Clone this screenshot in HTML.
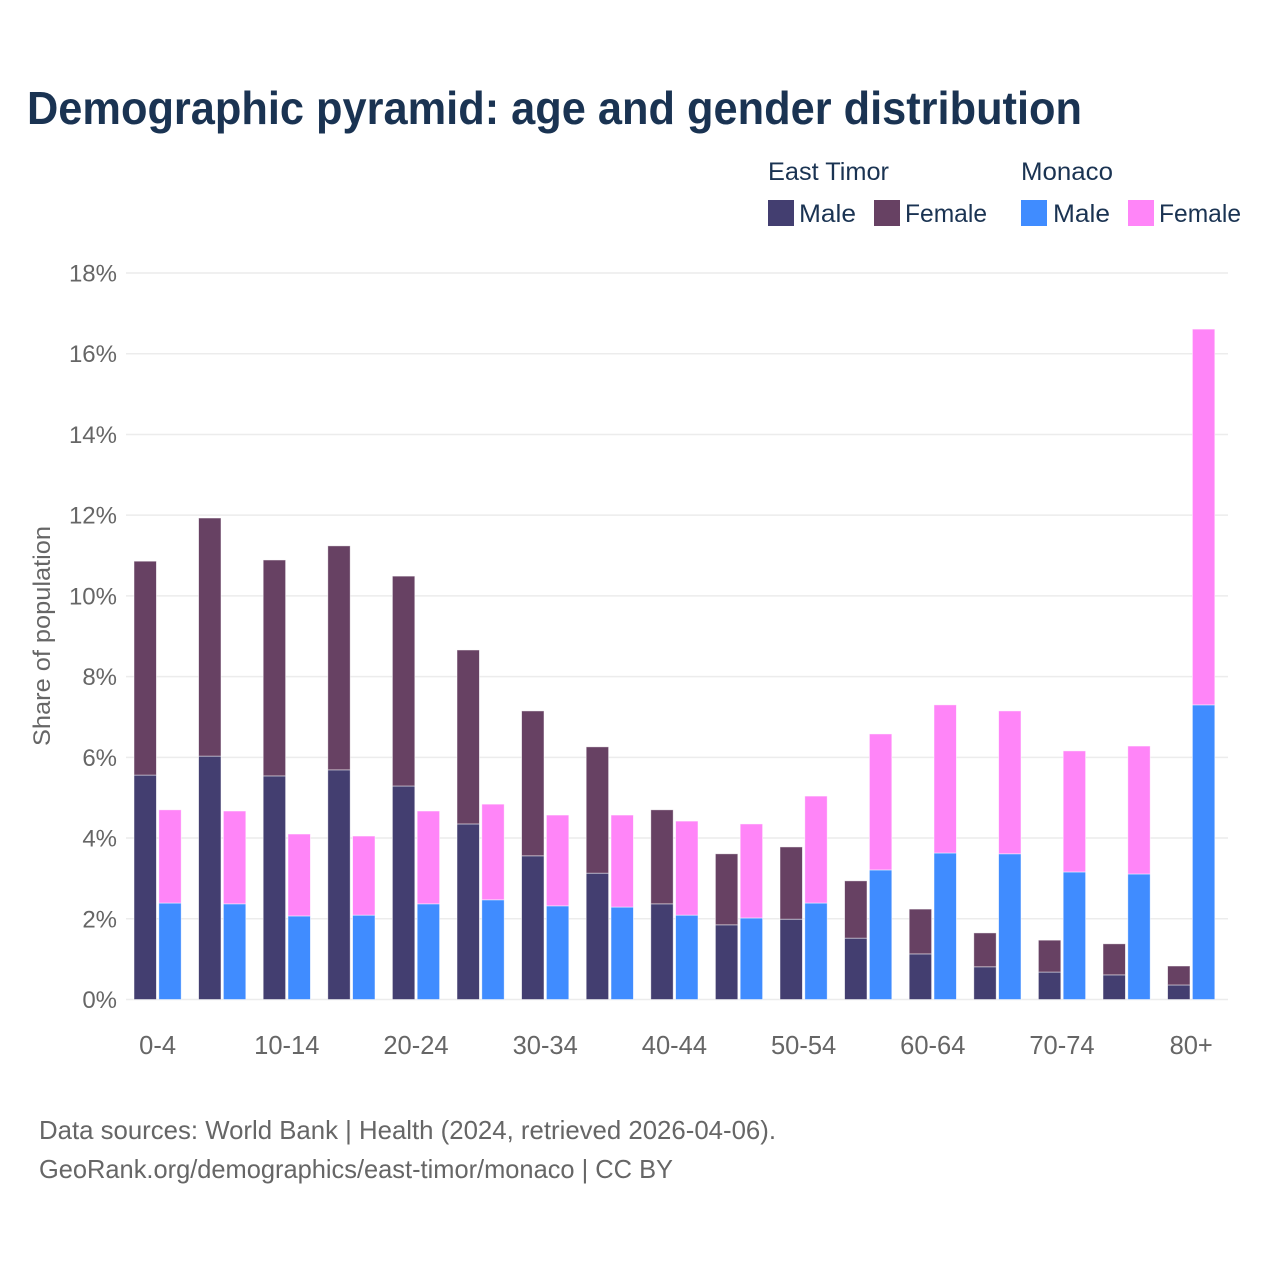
<!DOCTYPE html>
<html lang="en">
<head>
<meta charset="utf-8">
<title>Demographic pyramid</title>
<style>
html,body{margin:0;padding:0;background:#fff;width:1280px;height:1280px;overflow:hidden}
svg{display:block}
text{font-family:"Liberation Sans",sans-serif}
</style>
</head>
<body>
<svg id="chart" width="1280" height="1280" viewBox="0 0 1280 1280" xmlns="http://www.w3.org/2000/svg">
  <rect x="0" y="0" width="1280" height="1280" fill="#ffffff"/>
  <text x="27" y="124" font-size="46" font-weight="700" fill="#1a3352" textLength="1055" lengthAdjust="spacingAndGlyphs">Demographic pyramid: age and gender distribution</text>

  <g font-size="25" fill="#1a3352">
    <text x="768" y="180" textLength="121" lengthAdjust="spacingAndGlyphs">East Timor</text>
    <text x="1021" y="180" textLength="92" lengthAdjust="spacingAndGlyphs">Monaco</text>
    <rect x="768" y="200" width="26" height="26" fill="#433e70"/>
    <text x="799" y="222" textLength="57" lengthAdjust="spacingAndGlyphs">Male</text>
    <rect x="874" y="200" width="26" height="26" fill="#674163"/>
    <text x="905" y="222" textLength="82" lengthAdjust="spacingAndGlyphs">Female</text>
    <rect x="1021" y="200" width="26" height="26" fill="#408cff"/>
    <text x="1053" y="222" textLength="57" lengthAdjust="spacingAndGlyphs">Male</text>
    <rect x="1128" y="200" width="26" height="26" fill="#ff85f8"/>
    <text x="1159" y="222" textLength="82" lengthAdjust="spacingAndGlyphs">Female</text>
  </g>

  <g id="grid"></g>
  <g id="y-ticks"></g>
  <g id="bars"></g>
  <g id="x-ticks"></g>

  <text transform="translate(50,636) rotate(-90)" text-anchor="middle" font-size="24" fill="#666666" textLength="220" lengthAdjust="spacingAndGlyphs">Share of population</text>

  <text x="39" y="1139" font-size="26" fill="#666666" textLength="737" lengthAdjust="spacingAndGlyphs">Data sources: World Bank | Health (2024, retrieved 2026-04-06).</text>
  <text x="39" y="1178" font-size="26" fill="#666666" textLength="634" lengthAdjust="spacingAndGlyphs">GeoRank.org/demographics/east-timor/monaco | CC BY</text>
</svg>
<script>
const categories = ["0-4","5-9","10-14","15-19","20-24","25-29","30-34","35-39","40-44","45-49","50-54","55-59","60-64","65-69","70-74","75-79","80+"];
const xTickLabels = ["0-4","10-14","20-24","30-34","40-44","50-54","60-64","70-74","80+"];
const yTickValues = [0,2,4,6,8,10,12,14,16,18];
const eastTimorMale = [5.56,6.03,5.54,5.69,5.29,4.35,3.56,3.13,2.37,1.85,1.99,1.52,1.13,0.81,0.68,0.61,0.36];
const eastTimorFemale = [5.30,5.90,5.35,5.55,5.20,4.31,3.59,3.13,2.33,1.76,1.79,1.42,1.11,0.84,0.79,0.77,0.47];
const monacoMale = [2.39,2.37,2.07,2.09,2.37,2.47,2.32,2.29,2.09,2.02,2.39,3.21,3.63,3.61,3.16,3.11,7.30];
const monacoFemale = [2.31,2.30,2.03,1.96,2.30,2.37,2.25,2.28,2.33,2.33,2.65,3.37,3.67,3.54,3.00,3.17,9.31];

const NS = "http://www.w3.org/2000/svg";
const plotLeft = 126, plotRight = 1228, baseY = 999.5, pxPerUnit = 40.36;
const groupStart = 157.6, groupStep = 64.6, barW = 22.4, barGap = 1.2;
function yScale(v){ return baseY - v * pxPerUnit; }
function xCenter(name){ return groupStart + categories.indexOf(name) * groupStep; }

const gridG = document.getElementById("grid");
const yG = document.getElementById("y-ticks");
yTickValues.forEach(function(v){
  const y = yScale(v);
  const line = document.createElementNS(NS, "line");
  
  
  line.setAttribute("x1", plotLeft);
  line.setAttribute("x2", plotRight);
  line.setAttribute("y1", y);
  line.setAttribute("y2", y);
  line.setAttribute("stroke", "#ececec");
  line.setAttribute("stroke-width", "1.5");
  gridG.appendChild(line);
  const t = document.createElementNS(NS, "text");
  
  
  t.setAttribute("x", 117);
  t.setAttribute("y", y + 8.5);
  t.setAttribute("text-anchor", "end");
  t.setAttribute("font-size", "24");
  t.setAttribute("fill", "#666666");
  t.textContent = v + "%";
  yG.appendChild(t);
});

const barsG = document.getElementById("bars");
function addBar(x, lo, hi, fill){
  const r = document.createElementNS(NS, "rect");
  
  
  r.setAttribute("x", x);
  r.setAttribute("y", yScale(hi));
  r.setAttribute("width", barW);
  r.setAttribute("height", yScale(lo) - yScale(hi));
  r.setAttribute("fill", fill);
  r.setAttribute("stroke", "#ffffff");
  r.setAttribute("stroke-opacity", "0.6");
  r.setAttribute("stroke-width", "0.8");
  barsG.appendChild(r);
}
categories.forEach(function(c, i){
  const cx = xCenter(c);
  const x1 = cx - barGap - barW;
  const x2 = cx + barGap;
  addBar(x1, 0, eastTimorMale[i], "#433e70");
  addBar(x1, eastTimorMale[i], eastTimorMale[i] + eastTimorFemale[i], "#674163");
  addBar(x2, 0, monacoMale[i], "#408cff");
  addBar(x2, monacoMale[i], monacoMale[i] + monacoFemale[i], "#ff85f8");
});

const xG = document.getElementById("x-ticks");
xTickLabels.forEach(function(label){
  const t = document.createElementNS(NS, "text");
  
  
  t.setAttribute("x", xCenter(label));
  t.setAttribute("y", 1054);
  t.setAttribute("text-anchor", "middle");
  t.setAttribute("font-size", "25.5");
  t.setAttribute("fill", "#666666");
  t.textContent = label;
  xG.appendChild(t);
});
</script>
</body>
</html>
